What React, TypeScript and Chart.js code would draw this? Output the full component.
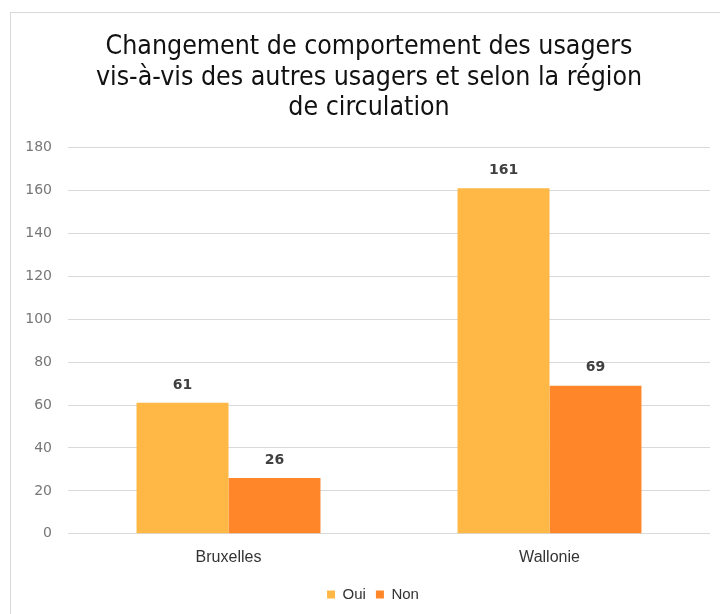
import React, { useEffect, useRef } from "react";
import { Chart, registerables } from "chart.js";

Chart.register(...registerables);

const categories = ["Bruxelles", "Wallonie"];
const seriesNames = ["Oui", "Non"];
const ouiValues = [61, 161];
const nonValues = [26, 69];
const yTicks = [0, 20, 40, 60, 80, 100, 120, 140, 160, 180];
const titleLines = [
  "Changement de comportement des usagers",
  "vis-à-vis des autres usagers et selon la région",
  "de circulation",
];

const colors = ["#FFB845", "#FF8629"];

const dataLabelPlugin = {
  id: "dataLabels",
  afterLayout(chart: any) {
    if (chart.legend) {
      chart.legend.left += 8;
      chart.legend.right += 8;
    }
    if (chart.titleBlock) {
      chart.titleBlock.left += 4;
      chart.titleBlock.right += 4;
    }
  },
  afterDatasetsDraw(chart: any) {
    const ctx = chart.ctx;
    ctx.save();
    ctx.font = "bold 14px 'DejaVu Sans'";
    ctx.fillStyle = "#404040";
    ctx.textAlign = "center";
    ctx.textBaseline = "middle";
    chart.data.datasets.forEach((ds: any, i: number) => {
      const meta = chart.getDatasetMeta(i);
      meta.data.forEach((bar: any, j: number) => {
        ctx.fillText(String(ds.data[j]), bar.x, bar.y - 18);
      });
    });
    ctx.restore();
  },
};

export default function App() {
  const ref = useRef<HTMLCanvasElement>(null);
  useEffect(() => {
    const chart = new Chart(ref.current!, {
      type: "bar",
      data: {
        labels: categories,
        datasets: [
          { label: seriesNames[0], data: ouiValues, backgroundColor: colors[0] },
          { label: seriesNames[1], data: nonValues, backgroundColor: colors[1] },
        ],
      },
      options: {
        responsive: false,
        animation: false,
        layout: { padding: { left: 20, right: 10, top: 18, bottom: 2 } },
        datasets: {
          bar: { categoryPercentage: 0.573, barPercentage: 1 },
        },
        plugins: {
          title: {
            display: true,
            text: titleLines,
            font: { family: "'DejaVu Sans Condensed', 'Liberation Sans'", size: 26.5, weight: "normal", lineHeight: 1.15 },
            color: "#111111",
            padding: { top: 14, bottom: 24 },
          },
          legend: {
            position: "bottom",
            labels: {
              boxWidth: 8,
              boxHeight: 8,
              padding: 10,
              color: "#333333",
              font: { family: "'Liberation Sans'", size: 15 },
            },
          },
          tooltip: { enabled: false },
        },
        scales: {
          x: {
            grid: { display: false },
            border: { display: false },
            afterFit(scale: any) {
              scale.height += 4;
            },
            ticks: {
              color: "#333333",
              padding: 6,
              font: { family: "'Liberation Sans'", size: 16 },
            },
          },
          y: {
            min: 0,
            max: 180,
            afterFit(scale: any) {
              scale.width = 48;
            },
            afterBuildTicks(scale: any) {
              scale.ticks = yTicks.map((v) => ({ value: v }));
            },
            grid: { color: "#d9d9d9", drawTicks: false },
            border: { display: false },
            ticks: {
              color: "#777777",
              padding: 16,
              font: { family: "'DejaVu Sans'", size: 14 },
            },
          },
        },
      },
      plugins: [dataLabelPlugin],
    });
    return () => chart.destroy();
  }, []);

  return (
    <div style={{ position: "fixed", left: 0, top: 0, width: 720, height: 614, background: "#fff" }}>
      <div
        style={{
          position: "absolute",
          left: 10,
          top: 12,
          width: 720,
          height: 620,
          borderLeft: "1px solid #d9d9d9",
          borderTop: "1px solid #d9d9d9",
        }}
      />
      <canvas ref={ref} width={720} height={614} style={{ position: "absolute", left: 0, top: 0 }} />
    </div>
  );
}
